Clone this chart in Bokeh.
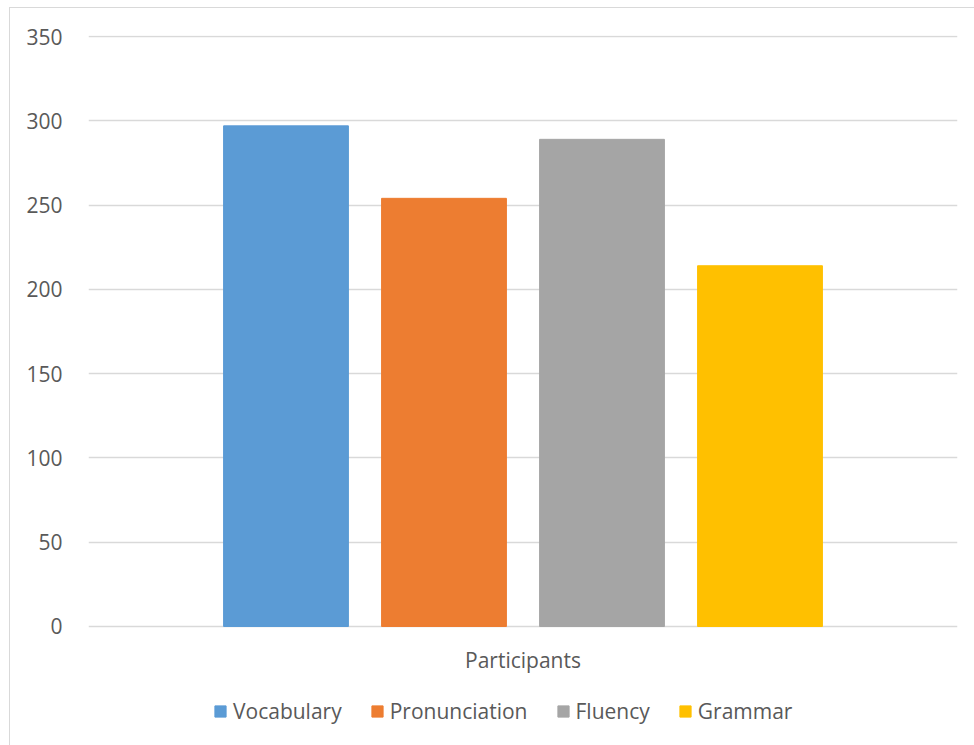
from bokeh.plotting import figure
from bokeh.models import ColumnDataSource, FactorRange, Legend, LegendItem, FixedTicker, Range1d, Label
from bokeh.embed import file_html
from bokeh.resources import INLINE

# Participant counts per skill area
skills = ["Vocabulary", "Pronunciation", "Fluency", "Grammar"]
counts = [297, 254, 289, 214]
colors = ["#5B9BD5", "#ED7D31", "#A5A5A5", "#FFC000"]
y_ticks = [0, 50, 100, 150, 200, 250, 300, 350]
category = "Participants"

FONT = "Open Sans"
TEXT = "#595959"
GRID = "#d9d9d9"

source = ColumnDataSource(dict(skill=skills, count=counts, color=colors))

# the frame runs down below zero so the caption and legend can sit under the bars
p = figure(
    x_range=FactorRange(factors=skills, range_padding=0.75, range_padding_units="absolute"),
    y_range=Range1d(-70.6, 350.6),
    frame_width=869, frame_height=710,
    output_backend="svg", toolbar_location=None,
    min_border_left=78, min_border_right=17, min_border_top=27, min_border_bottom=0,
    margin=(7, 0, 0, 9),
    styles={"border-left": "1px solid #d9d9d9", "border-top": "1px solid #d9d9d9"},
)
p.outline_line_color = None
p.background_fill_color = "white"
p.border_fill_color = "white"

bars = p.vbar(x="skill", top="count", width=0.79, color="color", source=source)

# y axis: labels only, light horizontal grid
p.yaxis.ticker = FixedTicker(ticks=y_ticks)
p.yaxis.axis_line_color = None
p.yaxis.major_tick_line_color = None
p.yaxis.minor_tick_line_color = None
p.yaxis.major_label_text_font = FONT
p.yaxis.major_label_text_font_size = "21px"
p.yaxis.major_label_text_color = TEXT
p.yaxis.major_label_standoff = 20
p.ygrid.grid_line_color = GRID
p.ygrid.grid_line_width = 1.5
p.xgrid.grid_line_color = None

# the series names live in the legend, so the category axis is hidden
p.xaxis.visible = False

# single category caption centred under the bar group
mid = len(skills) / 2
cap = Label(x=mid, y=-19.6, text=category, text_align="center", text_baseline="middle",
            text_font=FONT, text_font_size="21px", text_color=TEXT)
p.add_layout(cap)

items = [LegendItem(label=s, renderers=[bars], index=i) for i, s in enumerate(skills)]
legend = Legend(
    items=items, orientation="horizontal", location=(125, 20),
    label_text_font=FONT, label_text_font_size="21px", label_text_color=TEXT,
    glyph_width=14, glyph_height=14, label_standoff=6, spacing=28,
    border_line_color=None, background_fill_alpha=0, margin=0, padding=4,
)
p.add_layout(legend, "center")

open("out.html", "w").write(file_html(p, INLINE))
